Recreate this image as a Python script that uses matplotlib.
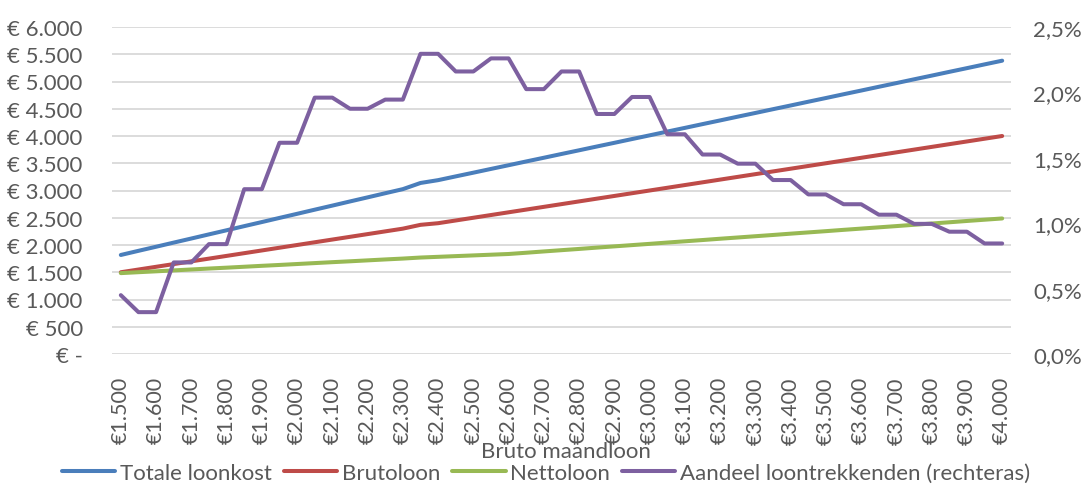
import matplotlib
matplotlib.use("Agg")
import matplotlib.pyplot as plt
import numpy as np

plt.rcParams['font.family'] = ['Lato', 'DejaVu Sans']

# Monthly gross wage categories (steps of €50); every second one is labelled
tick_labels = ["€1.500", "€1.600", "€1.700", "€1.800", "€1.900", "€2.000",
               "€2.100", "€2.200", "€2.300", "€2.400", "€2.500", "€2.600",
               "€2.700", "€2.800", "€2.900", "€3.000", "€3.100", "€3.200",
               "€3.300", "€3.400", "€3.500", "€3.600", "€3.700", "€3.800",
               "€3.900", "€4.000"]

totale_loonkost = [1817, 1893, 1968, 2044, 2119, 2195, 2270, 2346, 2421, 2497,
                   2572, 2648, 2723, 2799, 2874, 2950, 3025, 3138, 3190, 3259,
                   3327, 3396, 3464, 3533, 3601, 3670, 3738, 3807, 3875, 3944,
                   4012, 4081, 4149, 4218, 4286, 4355, 4423, 4492, 4560, 4629,
                   4697, 4766, 4834, 4903, 4971, 5040, 5108, 5177, 5245, 5314,
                   5382]

brutoloon = [1500, 1550, 1600, 1650, 1700, 1750, 1800, 1850, 1900, 1950,
             2000, 2050, 2100, 2150, 2200, 2250, 2300, 2370, 2400, 2450,
             2500, 2550, 2600, 2650, 2700, 2750, 2800, 2850, 2900, 2950,
             3000, 3050, 3100, 3150, 3200, 3250, 3300, 3350, 3400, 3450,
             3500, 3550, 3600, 3650, 3700, 3750, 3800, 3850, 3900, 3950,
             4000]

nettoloon = [1484, 1501, 1517, 1534, 1551, 1568, 1584, 1601, 1618, 1634,
             1651, 1668, 1685, 1701, 1718, 1735, 1751, 1770, 1783, 1796,
             1809, 1822, 1835, 1858, 1882, 1905, 1928, 1952, 1975, 1998,
             2021, 2045, 2068, 2091, 2115, 2138, 2161, 2184, 2208, 2231,
             2254, 2278, 2301, 2324, 2347, 2371, 2394, 2417, 2441, 2464,
             2487]

# Share of wage earners (%), right axis
aandeel = [0.45, 0.32, 0.32, 0.70, 0.70, 0.84, 0.84, 1.26, 1.26, 1.615,
           1.615, 1.96, 1.96, 1.875, 1.875, 1.945, 1.945, 2.295, 2.295, 2.16,
           2.16, 2.26, 2.26, 2.025, 2.025, 2.16, 2.16, 1.835, 1.835, 1.965,
           1.965, 1.68, 1.68, 1.525, 1.525, 1.455, 1.455, 1.33, 1.33, 1.22,
           1.22, 1.145, 1.145, 1.065, 1.065, 0.995, 0.995, 0.935, 0.935, 0.845,
           0.845]

left_ticks = [0, 500, 1000, 1500, 2000, 2500, 3000, 3500, 4000, 4500, 5000, 5500, 6000]
left_labels = ["€ -", "€ 500", "€ 1.000", "€ 1.500", "€ 2.000", "€ 2.500", "€ 3.000",
               "€ 3.500", "€ 4.000", "€ 4.500", "€ 5.000", "€ 5.500", "€ 6.000"]
right_ticks = [0.0, 0.5, 1.0, 1.5, 2.0, 2.5]
right_labels = ["0,0%", "0,5%", "1,0%", "1,5%", "2,0%", "2,5%"]

TEXT = "#595959"
GRID = "#D9D9D9"
FS = 16
LW = 2.9

fig = plt.figure(figsize=(10.84, 4.85), dpi=100)
ax = fig.add_axes([112 / 1084, 1 - 355 / 485, (1011 - 112) / 1084, (355 - 28) / 485])
ax2 = ax.twinx()

x = np.arange(len(brutoloon))

l1, = ax.plot(x, totale_loonkost, color="#4A7EBB", lw=LW, solid_capstyle="round",
              solid_joinstyle="round", label="Totale loonkost", zorder=3)
l2, = ax.plot(x, brutoloon, color="#BE4B48", lw=LW, solid_capstyle="round",
              solid_joinstyle="round", label="Brutoloon", zorder=3)
l3, = ax.plot(x, nettoloon, color="#98B954", lw=LW, solid_capstyle="round",
              solid_joinstyle="round", label="Nettoloon", zorder=3)
l4, = ax2.plot(x, aandeel, color="#7D60A0", lw=LW, solid_capstyle="round",
               solid_joinstyle="round", label="Aandeel loontrekkenden (rechteras)", zorder=3)

ax.set_xlim(-0.5, len(brutoloon) - 0.5)
ax.set_ylim(0, 6000)
ax2.set_ylim(0, 2.5)

ax.set_yticks(left_ticks)
ax.set_yticklabels(left_labels)
ax2.set_yticks(right_ticks)
ax2.set_yticklabels(right_labels)

ax.set_xticks(x[::2])
ax.set_xticklabels(tick_labels, rotation=90)

ax.grid(axis="y", color=GRID, lw=1.3, zorder=0)
ax.set_axisbelow(True)
for a in (ax, ax2):
    for s in a.spines.values():
        s.set_visible(False)

ax.tick_params(axis="y", length=0, pad=21, labelsize=FS, labelcolor=TEXT)
ax.tick_params(axis="x", length=0, pad=16, labelsize=FS - 0.5, labelcolor=TEXT)
ax2.tick_params(axis="y", length=0, pad=16, labelsize=FS, labelcolor=TEXT)

fig.text(566 / 1084, 1 - 452 / 485, "Bruto maandloon", ha="center", va="center",
         fontsize=FS, color=TEXT)

leg = fig.legend(handles=[l1, l2, l3, l4], loc="center", ncol=4,
                 bbox_to_anchor=(546 / 1084, 1 - 474 / 485), frameon=False,
                 fontsize=FS, handlelength=2.4, handletextpad=0.2,
                 columnspacing=0.55, borderaxespad=0, borderpad=0)
for t in leg.get_texts():
    t.set_color(TEXT)

fig.savefig("out.png", dpi=100)
